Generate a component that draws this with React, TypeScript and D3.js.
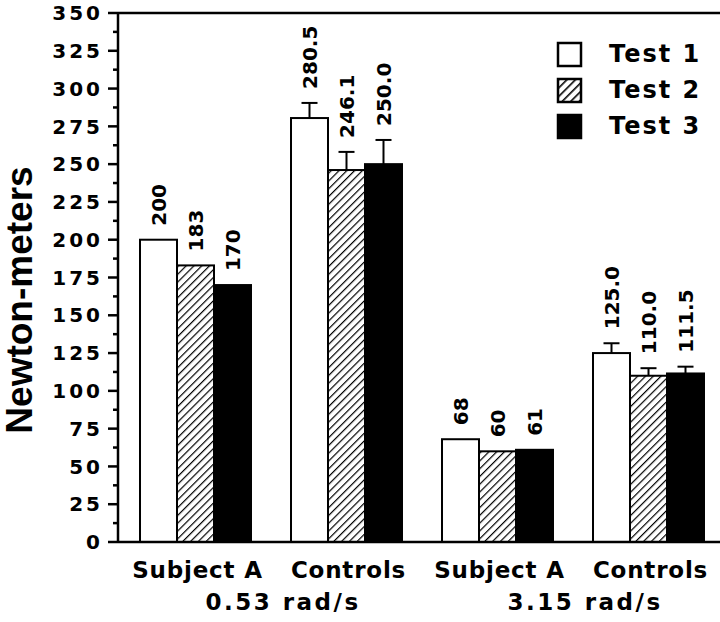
import React from 'react';
import { scaleBand, scaleLinear, range } from 'd3';

const width = 720;
const height = 622;

const categories = ['Subject A', 'Controls', 'Subject A', 'Controls'];
const speeds = ['0.53 rad/s', '3.15 rad/s'];
const tests = ['Test 1', 'Test 2', 'Test 3'];

const test1 = [200, 280.5, 68, 125.0];
const test2 = [183, 246.1, 60, 110.0];
const test3 = [170, 250.0, 61, 111.5];
const test1Labels = ['200', '280.5', '68', '125.0'];
const test2Labels = ['183', '246.1', '60', '110.0'];
const test3Labels = ['170', '250.0', '61', '111.5'];
const test1Err = [0, 10, 0, 6.5];
const test2Err = [0, 12, 0, 5];
const test3Err = [0, 16, 0, 4.5];

const yTicks = range(0, 351, 25);
const yMinor = range(12.5, 350, 25);

const series = [
  { name: tests[0], values: test1, labels: test1Labels, err: test1Err },
  { name: tests[1], values: test2, labels: test2Labels, err: test2Err },
  { name: tests[2], values: test3, labels: test3Labels, err: test3Err },
];

const fillFor = (i: number) =>
  i === 0 ? '#fff' : i === 1 ? 'url(#hatch)' : '#000';

const font = '"DejaVu Sans", sans-serif';

const App = () => {
  const left = 118;
  const top = 13;
  const bottom = 542;

  const yScale = scaleLinear().domain([0, 350]).range([bottom, top]);
  const xScale = scaleBand<number>()
    .domain(range(categories.length))
    .range([120, 724])
    .paddingInner(0.265)
    .paddingOuter(0.1325);
  const xInner = scaleBand<number>()
    .domain(range(series.length))
    .range([0, xScale.bandwidth()]);
  const bw = xInner.bandwidth();
  const mid = (i: number) => (xScale(i) as number) + xScale.bandwidth() / 2;

  return (
    <svg
      width={width}
      height={height}
      style={{ position: 'absolute', left: 0, top: 0, background: '#fff' }}
    >
      <defs>
        <pattern
          id="hatch"
          patternUnits="userSpaceOnUse"
          width={5.5}
          height={5.5}
          patternTransform="rotate(45)"
        >
          <rect width={5.5} height={5.5} fill="#fff" />
          <line x1={0} y1={0} x2={0} y2={5.5} stroke="#000" strokeWidth={2.4} />
        </pattern>
        <pattern
          id="hatchLegend"
          patternUnits="userSpaceOnUse"
          width={6}
          height={6}
          patternTransform="rotate(45)"
        >
          <rect width={6} height={6} fill="#fff" />
          <line x1={0} y1={0} x2={0} y2={6} stroke="#000" strokeWidth={3.2} />
        </pattern>
      </defs>

      {/* bars */}
      {categories.map((c, ci) => (
        <g key={ci} transform={`translate(${xScale(ci)},0)`}>
          {series.map((s, si) => {
            const x = xInner(si) as number;
            const v = s.values[ci];
            const e = s.err[ci];
            const cx = x + bw / 2;
            const tipY = yScale(v + e);
            return (
              <g key={s.name}>
                <rect
                  x={x}
                  y={yScale(v)}
                  width={bw}
                  height={bottom - yScale(v)}
                  fill={fillFor(si)}
                  stroke="#000"
                  strokeWidth={2}
                />
                {e > 0 && (
                  <g stroke="#000" strokeWidth={2}>
                    <line x1={cx} x2={cx} y1={yScale(v)} y2={tipY} />
                    <line x1={cx - 8} x2={cx + 8} y1={tipY} y2={tipY} />
                  </g>
                )}
                <text
                  transform={`translate(${cx},${tipY - 14}) rotate(-90)`}
                  dy="0.36em"
                  fontFamily={font}
                  fontWeight="bold"
                  fontSize={20}
                  fill="#000"
                >
                  {s.labels[ci]}
                </text>
              </g>
            );
          })}
        </g>
      ))}

      {/* frame */}
      <g stroke="#000" strokeWidth={2.5} fill="none">
        <line x1={left} x2={width} y1={top} y2={top} />
        <line x1={left} x2={width} y1={bottom} y2={bottom} />
        <line x1={left} x2={left} y1={top} y2={bottom} />
      </g>

      {/* y ticks */}
      {yTicks.map((t) => (
        <g key={t} transform={`translate(0,${yScale(t)})`}>
          <line x1={108} x2={left} stroke="#000" strokeWidth={2.5} />
          <text
            x={103}
            dy="0.36em"
            textAnchor="end"
            fontFamily={font}
            fontWeight="bold"
            fontSize={20}
            letterSpacing={3}
          >
            {t}
          </text>
        </g>
      ))}
      {yMinor.map((t) => (
        <line
          key={t}
          x1={113}
          x2={left}
          y1={yScale(t)}
          y2={yScale(t)}
          stroke="#000"
          strokeWidth={2.5}
        />
      ))}

      <text
        transform={`translate(32,300) rotate(-90)`}
        textAnchor="middle"
        fontFamily='"Liberation Sans", Arial, sans-serif'
        fontWeight="bold"
        fontSize={37}
      >
        Newton-meters
      </text>

      {/* x labels */}
      {categories.map((c, ci) => (
        <text
          key={ci}
          x={mid(ci) + 2}
          y={578}
          textAnchor="middle"
          fontFamily={font}
          fontWeight="bold"
          fontSize={23}
          letterSpacing={0.8}
        >
          {c}
        </text>
      ))}
      {speeds.map((s, i) => (
        <text
          key={s}
          x={(mid(i * 2) + mid(i * 2 + 1)) / 2 + 12}
          y={610}
          textAnchor="middle"
          fontFamily={font}
          fontWeight="bold"
          fontSize={23}
          letterSpacing={2.5}
        >
          {s}
        </text>
      ))}

      {/* legend */}
      {series.map((s, si) => (
        <g key={s.name} transform={`translate(558,${43 + si * 36})`}>
          <rect
            x={0}
            y={0}
            width={23}
            height={23}
            fill={si === 1 ? 'url(#hatchLegend)' : fillFor(si)}
            stroke="#000"
            strokeWidth={2.5}
          />
          <text
            x={51}
            y={19}
            fontFamily={font}
            fontWeight="bold"
            fontSize={24}
            letterSpacing={2}
          >
            {s.name}
          </text>
        </g>
      ))}
    </svg>
  );
};

export default App;
